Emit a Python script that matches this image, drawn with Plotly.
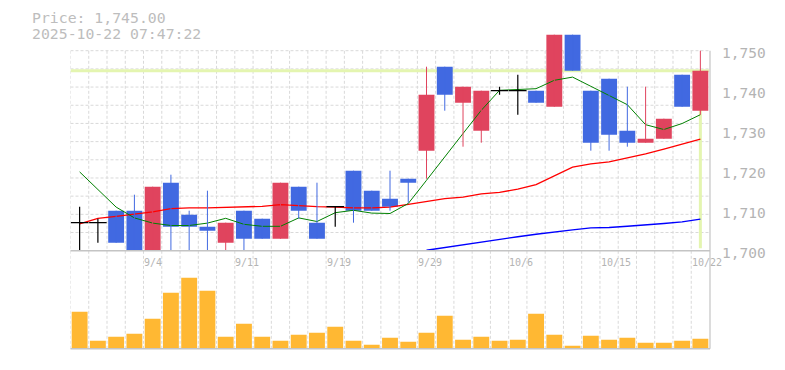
import plotly.graph_objects as go

# ---------------- data ----------------
opens  = [1707, 1707, 1710, 1710, 1699, 1717, 1709, 1706, 1702, 1710, 1708, 1703,
          1716, 1707, 1711, 1720, 1715, 1713, 1718, 1725, 1746, 1737, 1730, 1740,
          1740, 1740, 1736, 1754, 1740, 1743, 1730, 1727, 1728, 1744, 1735]
highs  = [1711, 1708, 1710, 1714, 1716, 1719, 1710, 1715, 1707, 1710, 1708, 1717,
          1716, 1717, 1711, 1720, 1715, 1720, 1718, 1746, 1746, 1741, 1740, 1741,
          1744, 1740, 1754, 1754, 1740, 1743, 1741, 1741, 1733, 1744, 1750]
lows   = [1698, 1702, 1702, 1698, 1698, 1699, 1699, 1699, 1699, 1699, 1703, 1703,
          1708, 1703, 1706, 1707, 1710, 1710, 1712, 1718, 1735, 1726, 1727, 1739,
          1734, 1737, 1736, 1745, 1725, 1725, 1726, 1727, 1728, 1736, 1734]
closes = [1707, 1707, 1702, 1699, 1716, 1706, 1706, 1705, 1707, 1703, 1703, 1717,
          1710, 1703, 1711, 1710, 1710, 1711, 1717, 1739, 1739, 1741, 1740, 1740,
          1740, 1737, 1754, 1745, 1727, 1729, 1727, 1728, 1733, 1736, 1745]
volumes = [3700, 800, 1200, 1500, 3000, 5600, 7100, 5800, 1200, 2500, 1200, 800,
           1400, 1600, 2200, 800, 400, 1100, 700, 1600, 3300, 900, 1200, 800,
           900, 3500, 1400, 300, 1300, 900, 1100, 600, 600, 800, 1000]
ma_short = [1719.7, 1715.3, 1710.9, 1708.2, 1706.9, 1706.3, 1706.3, 1706.9, 1708.1,
            1706.6, 1706.1, 1706.1, 1708.2, 1707.3, 1709.5, 1710.1, 1709.4, 1709.3,
            1711.8, 1717.6, 1723.6, 1729.3, 1735.1, 1740.1, 1740.3, 1740.5, 1742.6,
            1743.4, 1741.1, 1738.8, 1736.5, 1731.5, 1730.3, 1731.8, 1734.0]
ma_mid = [1706.7, 1708.1, 1708.6, 1709.2, 1709.7, 1710.5, 1710.7, 1710.7, 1710.8,
          1710.9, 1711.1, 1711.5, 1711.2, 1711.0, 1710.9, 1710.7, 1710.7, 1710.9,
          1711.6, 1712.3, 1713.0, 1713.4, 1714.2, 1714.6, 1715.4, 1716.5, 1718.6,
          1720.9, 1721.7, 1722.2, 1723.2, 1724.2, 1725.4, 1726.7, 1727.9]
ma_long = [None] * 19 + [1700.1, 1700.8, 1701.5, 1702.2, 1702.9, 1703.5, 1704.1,
                         1704.7, 1705.2, 1705.7, 1705.8, 1706.1, 1706.4, 1706.8,
                         1707.2, 1707.9]
tick_positions = [4, 9, 14, 19, 24, 29, 34]
tick_labels = ["9/4", "9/11", "9/19", "9/29", "10/6", "10/15", "10/22"]
price_ticks = [1700, 1710, 1720, 1730, 1740, 1750]
last_price = 1745
title_lines = ["Price: 1,745.00", "2025-10-22 07:47:22"]

# ---------------- geometry ----------------
W, H = 785, 370
XL, XR = 70.5, 709.5
P_LO, P_HI = 1700, 1755
P_BOT_Y, P_TOP_Y = 250.7, 30.7
V_BOT_Y, V_TOP_Y = 348.8, 252.3
GRID_TOP = 1750


def py(y):
    return (H - y) / H


def pxx(x):
    return x / W


UP, DOWN, DOJI = "#e0445e", "#4169e1", "#000000"
VOL = "#ffb833"
GRID = "#d9d9d9"
AXIS = "#c4c4c4"
TXT = "#b4b4b4"
MONO = "DejaVu Sans Mono"

n = len(opens)
idx = list(range(n))

fig = go.Figure()

# moving averages (drawn below candles)
fig.add_trace(go.Scatter(x=idx, y=ma_mid, mode="lines", line=dict(color="#ff0000", width=1.3)))
fig.add_trace(go.Scatter(x=idx, y=ma_short, mode="lines", line=dict(color="#008000", width=1)))
fig.add_trace(go.Scatter(x=idx, y=ma_long, mode="lines", line=dict(color="#0000ff", width=1.4)))

# wicks
for color, cond in ((UP, lambda o, c: c > o), (DOWN, lambda o, c: c < o)):
    wx, wy = [], []
    for i in idx:
        if cond(opens[i], closes[i]):
            wx += [i, i, None]
            wy += [lows[i], highs[i], None]
    fig.add_trace(go.Scatter(x=wx, y=wy, mode="lines", line=dict(color=color, width=1)))

# bodies
for color, cond in ((UP, lambda o, c: c > o), (DOWN, lambda o, c: c < o)):
    bx = [i for i in idx if cond(opens[i], closes[i])]
    fig.add_trace(go.Bar(
        x=bx,
        base=[min(opens[i], closes[i]) for i in bx],
        y=[abs(closes[i] - opens[i]) for i in bx],
        width=0.87, marker=dict(color=color, line=dict(width=0))))

# doji crosses
dx, dy = [], []
for i in idx:
    if opens[i] == closes[i]:
        dx += [i, i, None, i - 0.48, i + 0.48, None]
        dy += [lows[i], highs[i], None, opens[i], opens[i], None]
fig.add_trace(go.Scatter(x=dx, y=dy, mode="lines", line=dict(color=DOJI, width=1.2)))

# volume
fig.add_trace(go.Bar(x=idx, y=volumes, yaxis="y2", width=0.87,
                     marker=dict(color=VOL, line=dict(width=0))))

shapes = []
# vertical grid
for k in range(n):
    shapes.append(dict(type="line", xref="x", yref="paper", x0=k - 0.5, x1=k - 0.5,
                       y0=py(V_BOT_Y), y1=py(50.7), layer="below",
                       line=dict(color=GRID, width=1, dash="3px,2px")))
# horizontal grid (11 divisions)
for k in range(1, 12):
    yv = P_LO + k * (GRID_TOP - P_LO) / 11
    shapes.append(dict(type="line", xref="x", yref="y", x0=-0.5, x1=n - 0.5,
                       y0=yv, y1=yv, layer="below",
                       line=dict(color=GRID, width=1, dash="3px,2px")))
# current price markers
shapes.append(dict(type="line", xref="x", yref="y", x0=-0.5, x1=n - 0.5,
                   y0=last_price, y1=last_price, layer="below",
                   line=dict(color="#e4f5b0", width=3)))
shapes.append(dict(type="line", xref="x", yref="y", x0=n - 1, x1=n - 1,
                   y0=1700.6, y1=last_price, layer="below",
                   line=dict(color="#e4f5b0", width=3)))
# frame lines
shapes.append(dict(type="line", xref="paper", yref="paper", x0=pxx(XL), x1=pxx(XR + 0.5),
                   y0=py(P_BOT_Y), y1=py(P_BOT_Y), line=dict(color=AXIS, width=1.5)))
shapes.append(dict(type="line", xref="paper", yref="paper", x0=pxx(XL), x1=pxx(XR + 0.5),
                   y0=py(V_BOT_Y), y1=py(V_BOT_Y), line=dict(color=AXIS, width=1.5)))
shapes.append(dict(type="line", xref="paper", yref="paper", x0=pxx(XR + 0.5), x1=pxx(XR + 0.5),
                   y0=py(V_BOT_Y), y1=py(50.7), line=dict(color=AXIS, width=1.2)))

annotations = []
for v in price_ticks:
    annotations.append(dict(xref="paper", yref="y", x=pxx(720), y=v, xanchor="left",
                            yanchor="middle", yshift=-2.5, showarrow=False,
                            text=f"{v:,}", font=dict(family=MONO, size=14.5, color=TXT)))
for p, t in zip(tick_positions, tick_labels):
    annotations.append(dict(xref="x", yref="paper", x=p, y=py(262.5), xanchor="left",
                            xshift=-10.5, yanchor="middle", showarrow=False, text=t,
                            font=dict(family=MONO, size=10, color=TXT)))
for k, t in enumerate(title_lines):
    annotations.append(dict(xref="paper", yref="paper", x=pxx(29.5), y=py(18 + k * 15.6),
                            xanchor="left", yanchor="middle", showarrow=False, text=t,
                            font=dict(family=MONO, size=14.8, color="#bdbdbd")))

fig.update_layout(
    width=W, height=H, margin=dict(l=0, r=0, t=0, b=0),
    paper_bgcolor="white", plot_bgcolor="white",
    showlegend=False, barmode="overlay", hovermode=False,
    xaxis=dict(domain=[pxx(XL), pxx(XR)], range=[-0.5, n - 0.5], visible=False, fixedrange=True),
    yaxis=dict(domain=[py(P_BOT_Y), py(P_TOP_Y)], range=[P_LO, P_HI], visible=False),
    yaxis2=dict(domain=[py(V_BOT_Y), py(V_TOP_Y)], range=[0, (V_BOT_Y - V_TOP_Y) * 100],
                visible=False),
    shapes=shapes, annotations=annotations,
)

fig.write_html("out.html")
